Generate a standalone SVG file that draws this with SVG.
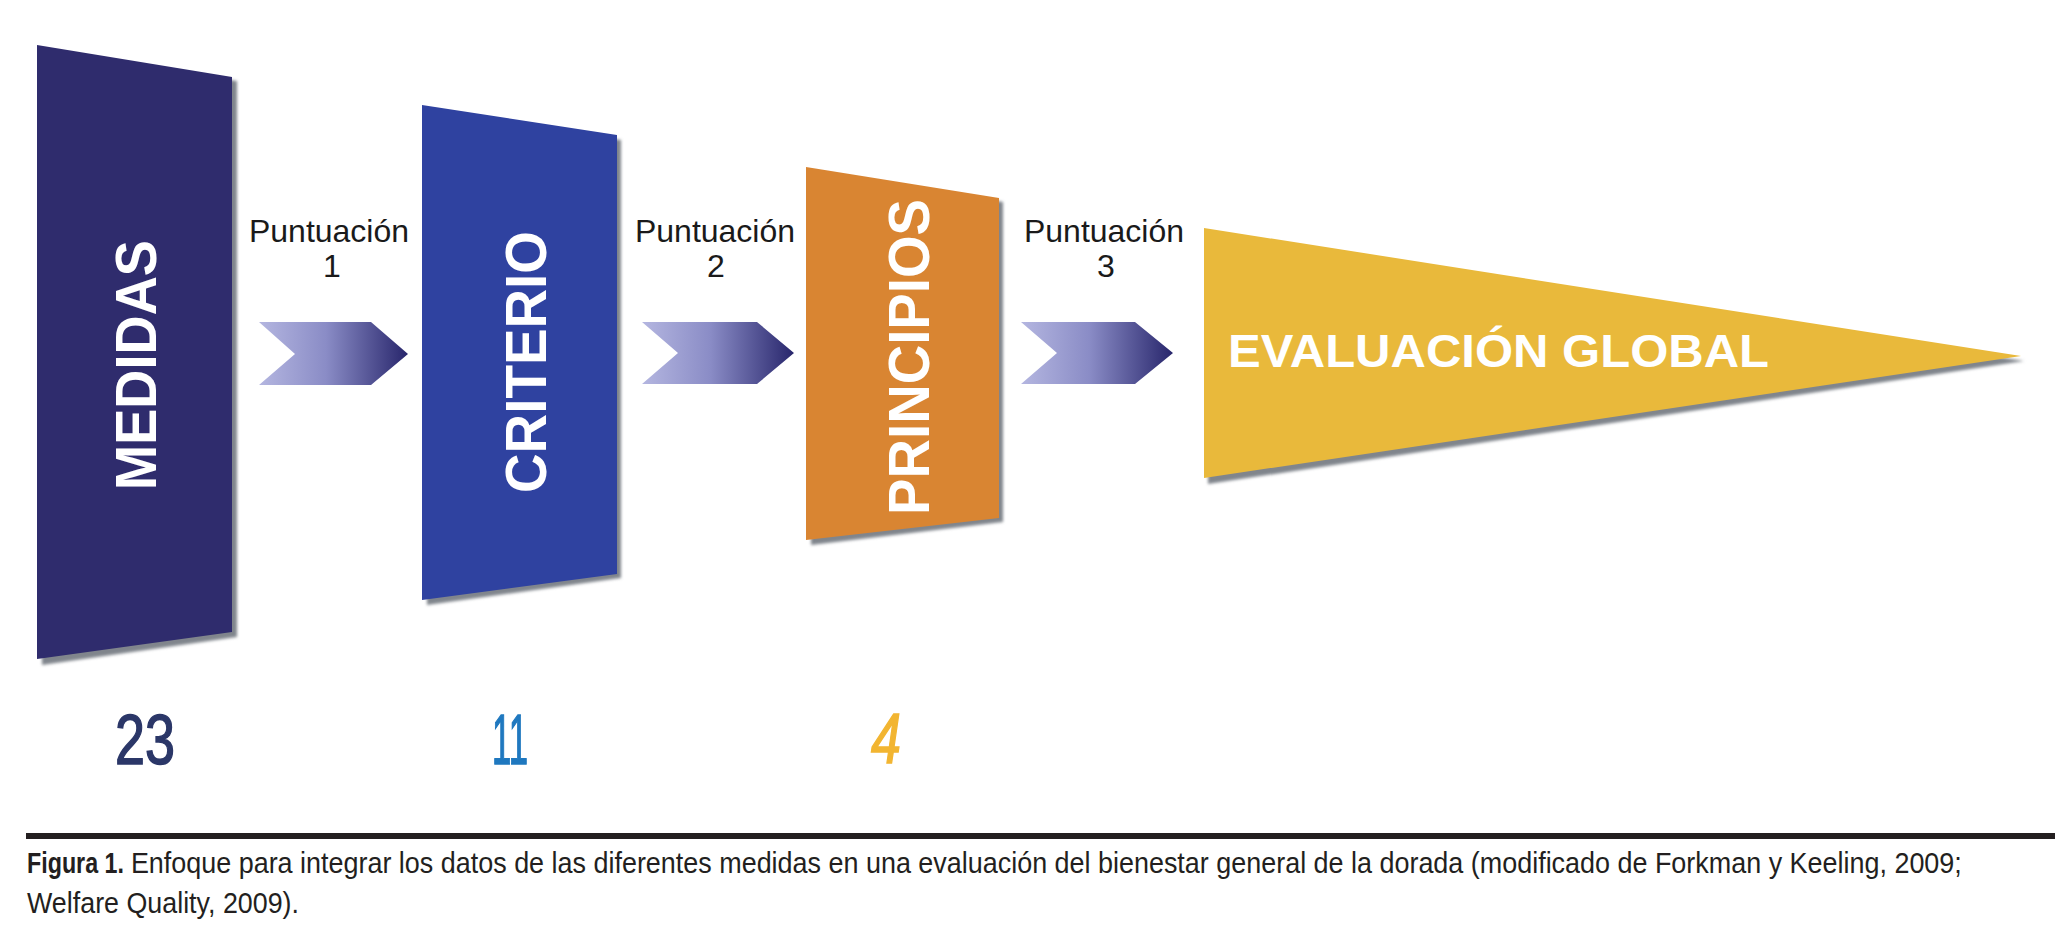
<svg xmlns="http://www.w3.org/2000/svg" width="2067" height="946" viewBox="0 0 2067 946">
  <style>
    .lbl { font-family: "Liberation Sans", Arial, sans-serif; font-size: 32px; fill: #1a1a1a; text-anchor: middle; }
    .big { font-family: "Liberation Sans", Arial, sans-serif; font-weight: bold; font-size: 58px; fill: #ffffff; text-anchor: middle; }
    .num { font-family: "Liberation Sans", Arial, sans-serif; font-size: 70px; text-anchor: middle; stroke-width: 1.5; }
    .cap { font-family: "Liberation Sans", Arial, sans-serif; font-size: 29px; fill: #231f20; }
    .shadow { fill: #80858c; filter: url(#blur); }
  </style>
  <defs>
    <filter id="blur" x="-5%" y="-5%" width="110%" height="110%">
      <feGaussianBlur stdDeviation="1.5"/>
    </filter>
    <linearGradient id="chev" x1="0" y1="0" x2="1" y2="0">
      <stop offset="0" stop-color="#b4b6e0"/>
      <stop offset="0.45" stop-color="#8a8cc6"/>
      <stop offset="1" stop-color="#28266c"/>
    </linearGradient>
  </defs>
  <rect width="2067" height="946" fill="#ffffff"/>

  <g id="medidas">
    <polygon class="shadow" points="42,50 237,81 237,637 42,665"/>
    <polygon points="37,45 232,77 232,632 37,659" fill="#2f2c6d"/>
    <text class="big" transform="translate(156,365) rotate(-90)" textLength="250" lengthAdjust="spacingAndGlyphs">MEDIDAS</text>
  </g>

  <g id="criterio">
    <polygon class="shadow" points="427,110 621,140 621,578 427,605"/>
    <polygon points="422,105 617,135 617,574 422,600" fill="#2f42a0"/>
    <text class="big" transform="translate(546,362) rotate(-90)" textLength="262" lengthAdjust="spacingAndGlyphs">CRITERIO</text>
  </g>

  <g id="principios">
    <polygon class="shadow" points="811,171 1003,202 1003,522 811,545"/>
    <polygon points="806,167 999,198 999,518 806,540" fill="#d98532"/>
    <text class="big" transform="translate(929,357) rotate(-90)" textLength="316" lengthAdjust="spacingAndGlyphs">PRINCIPIOS</text>
  </g>

  <g id="evaluacion">
    <polygon class="shadow" points="1208,233 2024,361 1208,484"/>
    <polygon points="1204,228 2021,356 1204,478" fill="#e9b93b"/>
    <text x="1228" y="367" font-family="'Liberation Sans', Arial, sans-serif" font-weight="bold" font-size="46" fill="#ffffff" textLength="541" lengthAdjust="spacingAndGlyphs">EVALUACIÓN GLOBAL</text>
  </g>

  <g id="connectors">
    <polygon points="259,322 371,322 408,354 371,385 259,385 295,354" fill="url(#chev)"/>
    <polygon points="642,322 757,322 794,353 757,384 642,384 678,353" fill="url(#chev)"/>
    <polygon points="1021,322 1135,322 1173,353 1135,384 1021,384 1057,353" fill="url(#chev)"/>
  </g>

  <g id="labels">
    <text class="lbl" x="329" y="242">Puntuación</text>
    <text class="lbl" x="332" y="277">1</text>
    <text class="lbl" x="715" y="242">Puntuación</text>
    <text class="lbl" x="716" y="277">2</text>
    <text class="lbl" x="1104" y="242">Puntuación</text>
    <text class="lbl" x="1106" y="277">3</text>
  </g>

  <g id="numbers">
    <text class="num" x="145" y="764" fill="#2b3768" stroke="#2b3768" textLength="60" lengthAdjust="spacingAndGlyphs">23</text>
    <text class="num" x="510" y="764" fill="#1f78bf" stroke="#1f78bf" textLength="36" lengthAdjust="spacingAndGlyphs">11</text>
    <text class="num" x="886" y="763" fill="#f2b531" stroke="#f2b531" font-style="italic" textLength="30" lengthAdjust="spacingAndGlyphs">4</text>
  </g>

  <g id="caption">
    <rect x="26" y="833" width="2029" height="6" fill="#231f20"/>
    <g transform="scale(0.85 1)">
      <text class="cap" x="31.8" y="873" font-weight="bold" textLength="114" lengthAdjust="spacingAndGlyphs">Figura 1.</text>
      <text class="cap" x="154" y="873" textLength="2154" lengthAdjust="spacingAndGlyphs">Enfoque para integrar los datos de las diferentes medidas en una evaluación del bienestar general de la dorada (modificado de Forkman y Keeling, 2009;</text>
      <text class="cap" x="31.8" y="913" textLength="320" lengthAdjust="spacingAndGlyphs">Welfare Quality, 2009).</text>
    </g>
  </g>
</svg>
